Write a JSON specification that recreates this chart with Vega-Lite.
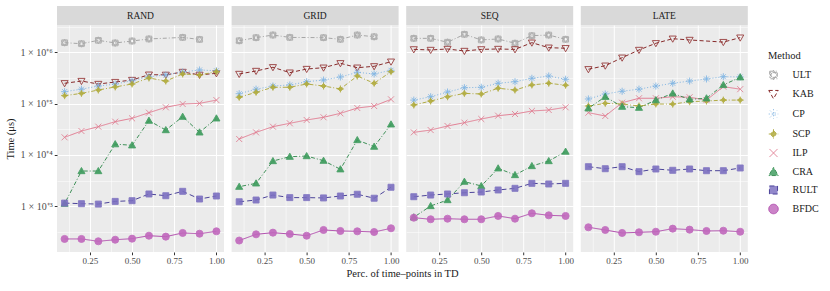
{
"$schema":"https://vega.github.io/schema/vega-lite/v6.json",
"padding":{"left":5,"top":6,"right":5,"bottom":5},
"title":{"text":"Perc. of time–points in TD","orient":"bottom","anchor":"middle","font":"Liberation Serif","fontSize":10.5,"fontWeight":"normal","color":"#1a1a1a","offset":3,"dx":-9.5},
"datasets":{"d":[
{"panel":"Rand","Method":"ULT","p":0.1,"t":1540000},{"panel":"Rand","Method":"ULT","p":0.2,"t":1470000},{"panel":"Rand","Method":"ULT","p":0.3,"t":1710000},{"panel":"Rand","Method":"ULT","p":0.4,"t":1520000},{"panel":"Rand","Method":"ULT","p":0.5,"t":1660000},{"panel":"Rand","Method":"ULT","p":0.6,"t":1820000},{"panel":"Rand","Method":"ULT","p":0.8,"t":1950000},{"panel":"Rand","Method":"ULT","p":0.9,"t":1780000},
{"panel":"Rand","Method":"KAB","p":0.1,"t":249000},{"panel":"Rand","Method":"KAB","p":0.2,"t":275000},{"panel":"Rand","Method":"KAB","p":0.3,"t":241000},{"panel":"Rand","Method":"KAB","p":0.4,"t":263000},{"panel":"Rand","Method":"KAB","p":0.5,"t":288000},{"panel":"Rand","Method":"KAB","p":0.6,"t":366000},{"panel":"Rand","Method":"KAB","p":0.7,"t":363000},{"panel":"Rand","Method":"KAB","p":0.8,"t":413000},{"panel":"Rand","Method":"KAB","p":0.9,"t":363000},{"panel":"Rand","Method":"KAB","p":1.0,"t":389000},
{"panel":"Rand","Method":"CP","p":0.1,"t":171000},{"panel":"Rand","Method":"CP","p":0.2,"t":191000},{"panel":"Rand","Method":"CP","p":0.3,"t":220000},{"panel":"Rand","Method":"CP","p":0.4,"t":240000},{"panel":"Rand","Method":"CP","p":0.5,"t":279000},{"panel":"Rand","Method":"CP","p":0.6,"t":334000},{"panel":"Rand","Method":"CP","p":0.7,"t":361000},{"panel":"Rand","Method":"CP","p":0.8,"t":413000},{"panel":"Rand","Method":"CP","p":0.9,"t":452000},{"panel":"Rand","Method":"CP","p":1.0,"t":437000},
{"panel":"Rand","Method":"SCP","p":0.1,"t":143000},{"panel":"Rand","Method":"SCP","p":0.2,"t":158000},{"panel":"Rand","Method":"SCP","p":0.3,"t":184000},{"panel":"Rand","Method":"SCP","p":0.4,"t":211000},{"panel":"Rand","Method":"SCP","p":0.5,"t":241000},{"panel":"Rand","Method":"SCP","p":0.6,"t":316000},{"panel":"Rand","Method":"SCP","p":0.7,"t":275000},{"panel":"Rand","Method":"SCP","p":0.8,"t":378000},{"panel":"Rand","Method":"SCP","p":0.9,"t":361000},{"panel":"Rand","Method":"SCP","p":1.0,"t":419000},
{"panel":"Rand","Method":"ILP","p":0.1,"t":22000},{"panel":"Rand","Method":"ILP","p":0.2,"t":29200},{"panel":"Rand","Method":"ILP","p":0.3,"t":35500},{"panel":"Rand","Method":"ILP","p":0.4,"t":44400},{"panel":"Rand","Method":"ILP","p":0.5,"t":51600},{"panel":"Rand","Method":"ILP","p":0.6,"t":66500},{"panel":"Rand","Method":"ILP","p":0.7,"t":84700},{"panel":"Rand","Method":"ILP","p":0.8,"t":98200},{"panel":"Rand","Method":"ILP","p":0.9,"t":101000},{"panel":"Rand","Method":"ILP","p":1.0,"t":117000},
{"panel":"Rand","Method":"CRA","p":0.1,"t":1120},{"panel":"Rand","Method":"CRA","p":0.2,"t":4850},{"panel":"Rand","Method":"CRA","p":0.3,"t":4850},{"panel":"Rand","Method":"CRA","p":0.4,"t":16200},{"panel":"Rand","Method":"CRA","p":0.5,"t":15400},{"panel":"Rand","Method":"CRA","p":0.6,"t":46500},{"panel":"Rand","Method":"CRA","p":0.7,"t":30500},{"panel":"Rand","Method":"CRA","p":0.8,"t":55600},{"panel":"Rand","Method":"CRA","p":0.9,"t":27500},{"panel":"Rand","Method":"CRA","p":1.0,"t":51600},
{"panel":"Rand","Method":"RULT","p":0.1,"t":1150},{"panel":"Rand","Method":"RULT","p":0.2,"t":1120},{"panel":"Rand","Method":"RULT","p":0.3,"t":1100},{"panel":"Rand","Method":"RULT","p":0.4,"t":1240},{"panel":"Rand","Method":"RULT","p":0.5,"t":1280},{"panel":"Rand","Method":"RULT","p":0.6,"t":1730},{"panel":"Rand","Method":"RULT","p":0.7,"t":1600},{"panel":"Rand","Method":"RULT","p":0.8,"t":1950},{"panel":"Rand","Method":"RULT","p":0.9,"t":1380},{"panel":"Rand","Method":"RULT","p":1.0,"t":1580},
{"panel":"Rand","Method":"BFDC","p":0.1,"t":230},{"panel":"Rand","Method":"BFDC","p":0.2,"t":230},{"panel":"Rand","Method":"BFDC","p":0.3,"t":207},{"panel":"Rand","Method":"BFDC","p":0.4,"t":222},{"panel":"Rand","Method":"BFDC","p":0.5,"t":233},{"panel":"Rand","Method":"BFDC","p":0.6,"t":266},{"panel":"Rand","Method":"BFDC","p":0.7,"t":255},{"panel":"Rand","Method":"BFDC","p":0.8,"t":301},{"panel":"Rand","Method":"BFDC","p":0.9,"t":291},{"panel":"Rand","Method":"BFDC","p":1.0,"t":324},
{"panel":"Grid","Method":"ULT","p":0.1,"t":1680000},{"panel":"Grid","Method":"ULT","p":0.2,"t":1930000},{"panel":"Grid","Method":"ULT","p":0.3,"t":2170000},{"panel":"Grid","Method":"ULT","p":0.4,"t":1950000},{"panel":"Grid","Method":"ULT","p":0.6,"t":1930000},{"panel":"Grid","Method":"ULT","p":0.7,"t":1790000},{"panel":"Grid","Method":"ULT","p":0.8,"t":2170000},{"panel":"Grid","Method":"ULT","p":0.9,"t":2010000},
{"panel":"Grid","Method":"KAB","p":0.1,"t":378000},{"panel":"Grid","Method":"KAB","p":0.2,"t":432000},{"panel":"Grid","Method":"KAB","p":0.3,"t":511000},{"panel":"Grid","Method":"KAB","p":0.4,"t":401000},{"panel":"Grid","Method":"KAB","p":0.5,"t":472000},{"panel":"Grid","Method":"KAB","p":0.6,"t":501000},{"panel":"Grid","Method":"KAB","p":0.7,"t":611000},{"panel":"Grid","Method":"KAB","p":0.8,"t":501000},{"panel":"Grid","Method":"KAB","p":0.9,"t":533000},{"panel":"Grid","Method":"KAB","p":1.0,"t":656000},
{"panel":"Grid","Method":"CP","p":0.1,"t":156000},{"panel":"Grid","Method":"CP","p":0.2,"t":191000},{"panel":"Grid","Method":"CP","p":0.3,"t":220000},{"panel":"Grid","Method":"CP","p":0.4,"t":231000},{"panel":"Grid","Method":"CP","p":0.5,"t":267000},{"panel":"Grid","Method":"CP","p":0.6,"t":288000},{"panel":"Grid","Method":"CP","p":0.7,"t":330000},{"panel":"Grid","Method":"CP","p":0.8,"t":407000},{"panel":"Grid","Method":"CP","p":0.9,"t":378000},{"panel":"Grid","Method":"CP","p":1.0,"t":446000},
{"panel":"Grid","Method":"SCP","p":0.1,"t":133000},{"panel":"Grid","Method":"SCP","p":0.2,"t":166000},{"panel":"Grid","Method":"SCP","p":0.3,"t":208000},{"panel":"Grid","Method":"SCP","p":0.4,"t":208000},{"panel":"Grid","Method":"SCP","p":0.5,"t":241000},{"panel":"Grid","Method":"SCP","p":0.6,"t":220000},{"panel":"Grid","Method":"SCP","p":0.7,"t":193000},{"panel":"Grid","Method":"SCP","p":0.8,"t":345000},{"panel":"Grid","Method":"SCP","p":0.9,"t":249000},{"panel":"Grid","Method":"SCP","p":1.0,"t":419000},
{"panel":"Grid","Method":"ILP","p":0.1,"t":20400},{"panel":"Grid","Method":"ILP","p":0.2,"t":27500},{"panel":"Grid","Method":"ILP","p":0.3,"t":35500},{"panel":"Grid","Method":"ILP","p":0.4,"t":41300},{"panel":"Grid","Method":"ILP","p":0.5,"t":47900},{"panel":"Grid","Method":"ILP","p":0.6,"t":54100},{"panel":"Grid","Method":"ILP","p":0.7,"t":64600},{"panel":"Grid","Method":"ILP","p":0.8,"t":82000},{"panel":"Grid","Method":"ILP","p":0.9,"t":89700},{"panel":"Grid","Method":"ILP","p":1.0,"t":121000},
{"panel":"Grid","Method":"CRA","p":0.1,"t":2400},{"panel":"Grid","Method":"CRA","p":0.2,"t":2790},{"panel":"Grid","Method":"CRA","p":0.3,"t":7600},{"panel":"Grid","Method":"CRA","p":0.4,"t":9230},{"panel":"Grid","Method":"CRA","p":0.5,"t":9500},{"panel":"Grid","Method":"CRA","p":0.6,"t":7710},{"panel":"Grid","Method":"CRA","p":0.7,"t":5250},{"panel":"Grid","Method":"CRA","p":0.8,"t":19500},{"panel":"Grid","Method":"CRA","p":0.9,"t":14500},{"panel":"Grid","Method":"CRA","p":1.0,"t":39400},
{"panel":"Grid","Method":"RULT","p":0.1,"t":1220},{"panel":"Grid","Method":"RULT","p":0.2,"t":1320},{"panel":"Grid","Method":"RULT","p":0.3,"t":1650},{"panel":"Grid","Method":"RULT","p":0.4,"t":1470},{"panel":"Grid","Method":"RULT","p":0.5,"t":1470},{"panel":"Grid","Method":"RULT","p":0.6,"t":1450},{"panel":"Grid","Method":"RULT","p":0.7,"t":1580},{"panel":"Grid","Method":"RULT","p":0.8,"t":1710},{"panel":"Grid","Method":"RULT","p":0.9,"t":1430},{"panel":"Grid","Method":"RULT","p":1.0,"t":2340},
{"panel":"Grid","Method":"BFDC","p":0.1,"t":214},{"panel":"Grid","Method":"BFDC","p":0.2,"t":283},{"panel":"Grid","Method":"BFDC","p":0.3,"t":305},{"panel":"Grid","Method":"BFDC","p":0.4,"t":287},{"panel":"Grid","Method":"BFDC","p":0.5,"t":266},{"panel":"Grid","Method":"BFDC","p":0.6,"t":344},{"panel":"Grid","Method":"BFDC","p":0.7,"t":329},{"panel":"Grid","Method":"BFDC","p":0.8,"t":324},{"panel":"Grid","Method":"BFDC","p":0.9,"t":314},{"panel":"Grid","Method":"BFDC","p":1.0,"t":371},
{"panel":"Seq","Method":"ULT","p":0.1,"t":1870000},{"panel":"Seq","Method":"ULT","p":0.2,"t":1870000},{"panel":"Seq","Method":"ULT","p":0.3,"t":1570000},{"panel":"Seq","Method":"ULT","p":0.4,"t":2240000},{"panel":"Seq","Method":"ULT","p":0.5,"t":1740000},{"panel":"Seq","Method":"ULT","p":0.6,"t":1820000},{"panel":"Seq","Method":"ULT","p":0.7,"t":1500000},{"panel":"Seq","Method":"ULT","p":0.8,"t":2110000},{"panel":"Seq","Method":"ULT","p":0.9,"t":2170000},{"panel":"Seq","Method":"ULT","p":1.0,"t":1790000},
{"panel":"Seq","Method":"KAB","p":0.1,"t":1140000},{"panel":"Seq","Method":"KAB","p":0.2,"t":1110000},{"panel":"Seq","Method":"KAB","p":0.3,"t":1160000},{"panel":"Seq","Method":"KAB","p":0.4,"t":1060000},{"panel":"Seq","Method":"KAB","p":0.5,"t":1140000},{"panel":"Seq","Method":"KAB","p":0.6,"t":1160000},{"panel":"Seq","Method":"KAB","p":0.7,"t":1140000},{"panel":"Seq","Method":"KAB","p":0.8,"t":1540000},{"panel":"Seq","Method":"KAB","p":0.9,"t":1230000},{"panel":"Seq","Method":"KAB","p":1.0,"t":1200000},
{"panel":"Seq","Method":"CP","p":0.1,"t":117000},{"panel":"Seq","Method":"CP","p":0.2,"t":136000},{"panel":"Seq","Method":"CP","p":0.3,"t":168000},{"panel":"Seq","Method":"CP","p":0.4,"t":204000},{"panel":"Seq","Method":"CP","p":0.5,"t":208000},{"panel":"Seq","Method":"CP","p":0.6,"t":249000},{"panel":"Seq","Method":"CP","p":0.7,"t":267000},{"panel":"Seq","Method":"CP","p":0.8,"t":311000},{"panel":"Seq","Method":"CP","p":0.9,"t":345000},{"panel":"Seq","Method":"CP","p":1.0,"t":298000},
{"panel":"Seq","Method":"SCP","p":0.1,"t":94000},{"panel":"Seq","Method":"SCP","p":0.2,"t":112000},{"panel":"Seq","Method":"SCP","p":0.3,"t":136000},{"panel":"Seq","Method":"SCP","p":0.4,"t":158000},{"panel":"Seq","Method":"SCP","p":0.5,"t":154000},{"panel":"Seq","Method":"SCP","p":0.6,"t":199000},{"panel":"Seq","Method":"SCP","p":0.7,"t":184000},{"panel":"Seq","Method":"SCP","p":0.8,"t":231000},{"panel":"Seq","Method":"SCP","p":0.9,"t":249000},{"panel":"Seq","Method":"SCP","p":1.0,"t":228000},
{"panel":"Seq","Method":"ILP","p":0.1,"t":27500},{"panel":"Seq","Method":"ILP","p":0.2,"t":30500},{"panel":"Seq","Method":"ILP","p":0.3,"t":36600},{"panel":"Seq","Method":"ILP","p":0.4,"t":42500},{"panel":"Seq","Method":"ILP","p":0.5,"t":50100},{"panel":"Seq","Method":"ILP","p":0.6,"t":58100},{"panel":"Seq","Method":"ILP","p":0.7,"t":62700},{"panel":"Seq","Method":"ILP","p":0.8,"t":71800},{"panel":"Seq","Method":"ILP","p":0.9,"t":75000},{"panel":"Seq","Method":"ILP","p":1.0,"t":84700},
{"panel":"Seq","Method":"CRA","p":0.1,"t":608},{"panel":"Seq","Method":"CRA","p":0.2,"t":1010},{"panel":"Seq","Method":"CRA","p":0.3,"t":1320},{"panel":"Seq","Method":"CRA","p":0.4,"t":3010},{"panel":"Seq","Method":"CRA","p":0.5,"t":2480},{"panel":"Seq","Method":"CRA","p":0.6,"t":5480},{"panel":"Seq","Method":"CRA","p":0.7,"t":4060},{"panel":"Seq","Method":"CRA","p":0.8,"t":6080},{"panel":"Seq","Method":"CRA","p":0.9,"t":7600},{"panel":"Seq","Method":"CRA","p":1.0,"t":11600},
{"panel":"Seq","Method":"RULT","p":0.1,"t":1530},{"panel":"Seq","Method":"RULT","p":0.2,"t":1650},{"panel":"Seq","Method":"RULT","p":0.3,"t":1730},{"panel":"Seq","Method":"RULT","p":0.4,"t":1830},{"panel":"Seq","Method":"RULT","p":0.5,"t":1890},{"panel":"Seq","Method":"RULT","p":0.6,"t":2070},{"panel":"Seq","Method":"RULT","p":0.7,"t":2230},{"panel":"Seq","Method":"RULT","p":0.8,"t":2790},{"panel":"Seq","Method":"RULT","p":0.9,"t":2710},{"panel":"Seq","Method":"RULT","p":1.0,"t":2790},
{"panel":"Seq","Method":"BFDC","p":0.1,"t":597},{"panel":"Seq","Method":"BFDC","p":0.2,"t":556},{"panel":"Seq","Method":"BFDC","p":0.3,"t":571},{"panel":"Seq","Method":"BFDC","p":0.4,"t":556},{"panel":"Seq","Method":"BFDC","p":0.5,"t":556},{"panel":"Seq","Method":"BFDC","p":0.6,"t":646},{"panel":"Seq","Method":"BFDC","p":0.7,"t":571},{"panel":"Seq","Method":"BFDC","p":0.8,"t":728},{"panel":"Seq","Method":"BFDC","p":0.9,"t":664},{"panel":"Seq","Method":"BFDC","p":1.0,"t":646},
{"panel":"Late","Method":"KAB","p":0.1,"t":467000},{"panel":"Late","Method":"KAB","p":0.2,"t":548000},{"panel":"Late","Method":"KAB","p":0.3,"t":785000},{"panel":"Late","Method":"KAB","p":0.4,"t":1110000},{"panel":"Late","Method":"KAB","p":0.5,"t":1500000},{"panel":"Late","Method":"KAB","p":0.6,"t":1840000},{"panel":"Late","Method":"KAB","p":0.7,"t":1740000},{"panel":"Late","Method":"KAB","p":0.9,"t":1580000},{"panel":"Late","Method":"KAB","p":1.0,"t":1930000},
{"panel":"Late","Method":"CP","p":0.1,"t":123000},{"panel":"Late","Method":"CP","p":0.2,"t":154000},{"panel":"Late","Method":"CP","p":0.3,"t":174000},{"panel":"Late","Method":"CP","p":0.4,"t":191000},{"panel":"Late","Method":"CP","p":0.5,"t":220000},{"panel":"Late","Method":"CP","p":0.6,"t":249000},{"panel":"Late","Method":"CP","p":0.7,"t":275000},{"panel":"Late","Method":"CP","p":0.8,"t":302000},{"panel":"Late","Method":"CP","p":0.9,"t":334000},{"panel":"Late","Method":"CP","p":1.0,"t":331000},
{"panel":"Late","Method":"SCP","p":0.1,"t":89700},{"panel":"Late","Method":"SCP","p":0.2,"t":101000},{"panel":"Late","Method":"SCP","p":0.3,"t":98200},{"panel":"Late","Method":"SCP","p":0.4,"t":89700},{"panel":"Late","Method":"SCP","p":0.5,"t":98200},{"panel":"Late","Method":"SCP","p":0.6,"t":97700},{"panel":"Late","Method":"SCP","p":0.7,"t":109000},{"panel":"Late","Method":"SCP","p":0.8,"t":112000},{"panel":"Late","Method":"SCP","p":0.9,"t":117000},{"panel":"Late","Method":"SCP","p":1.0,"t":117000},
{"panel":"Late","Method":"ILP","p":0.1,"t":66500},{"panel":"Late","Method":"ILP","p":0.2,"t":57300},{"panel":"Late","Method":"ILP","p":0.3,"t":104000},{"panel":"Late","Method":"ILP","p":0.4,"t":127000},{"panel":"Late","Method":"ILP","p":0.5,"t":127000},{"panel":"Late","Method":"ILP","p":0.6,"t":136000},{"panel":"Late","Method":"ILP","p":0.7,"t":133000},{"panel":"Late","Method":"ILP","p":0.8,"t":117000},{"panel":"Late","Method":"ILP","p":0.9,"t":214000},{"panel":"Late","Method":"ILP","p":1.0,"t":191000},
{"panel":"Late","Method":"CRA","p":0.1,"t":80900},{"panel":"Late","Method":"CRA","p":0.2,"t":136000},{"panel":"Late","Method":"CRA","p":0.3,"t":87100},{"panel":"Late","Method":"CRA","p":0.4,"t":83200},{"panel":"Late","Method":"CRA","p":0.5,"t":117000},{"panel":"Late","Method":"CRA","p":0.6,"t":158000},{"panel":"Late","Method":"CRA","p":0.7,"t":121000},{"panel":"Late","Method":"CRA","p":0.8,"t":127000},{"panel":"Late","Method":"CRA","p":0.9,"t":231000},{"panel":"Late","Method":"CRA","p":1.0,"t":326000},
{"panel":"Late","Method":"RULT","p":0.1,"t":5890},{"panel":"Late","Method":"RULT","p":0.2,"t":5380},{"panel":"Late","Method":"RULT","p":0.3,"t":5890},{"panel":"Late","Method":"RULT","p":0.4,"t":4710},{"panel":"Late","Method":"RULT","p":0.5,"t":5310},{"panel":"Late","Method":"RULT","p":0.6,"t":5010},{"panel":"Late","Method":"RULT","p":0.7,"t":5310},{"panel":"Late","Method":"RULT","p":0.8,"t":4920},{"panel":"Late","Method":"RULT","p":0.9,"t":4920},{"panel":"Late","Method":"RULT","p":1.0,"t":5560},
{"panel":"Late","Method":"BFDC","p":0.1,"t":388},{"panel":"Late","Method":"BFDC","p":0.2,"t":344},{"panel":"Late","Method":"BFDC","p":0.3,"t":301},{"panel":"Late","Method":"BFDC","p":0.4,"t":310},{"panel":"Late","Method":"BFDC","p":0.5,"t":318},{"panel":"Late","Method":"BFDC","p":0.6,"t":365},{"panel":"Late","Method":"BFDC","p":0.7,"t":349},{"panel":"Late","Method":"BFDC","p":0.8,"t":329},{"panel":"Late","Method":"BFDC","p":0.9,"t":333},{"panel":"Late","Method":"BFDC","p":1.0,"t":318}
]},
"hconcat":[
{"vconcat":[
 {"width":167,"height":19,"view":{"fill":"#d9d9d9","stroke":null},"data":{"values":[{"panel":"Rand"}]},"mark":{"type":"text","font":"Liberation Serif","fontSize":9.5,"color":"#1a1a1a","text":{"expr":"upper(datum.panel)"}}},
 {"width":167,"height":227,"data":{"name":"d"},"transform":[{"filter":"datum.panel == 'Rand'"}],
  "layer":[
   {"mark":{"type":"line","strokeWidth":0.9},"encoding":{
     "x":{"field":"p","type":"quantitative","scale":{"domain":[0.055,1.045],"nice":false,"zero":false},"axis":{"values":[0.125,0.375,0.625,0.875],"labels":false,"ticks":false,"domain":false,"title":null,"grid":true,"gridWidth":0.5,"gridColor":"#ffffff","orient":"bottom"}},
     "y":{"field":"t","type":"quantitative","scale":{"type":"log","domain":[128,3404000],"nice":false},"axis":{"values":[316.23,3162.3,31623,316228,3162278],"labels":false,"ticks":false,"domain":false,"title":null,"grid":true,"gridWidth":0.5,"gridColor":"#ffffff","orient":"left"}},
     "color":{"field":"Method","type":"nominal","scale":{"domain":["ULT","KAB","CP","SCP","ILP","CRA","RULT","BFDC"],"range":["#9e9e9e","#7b1414","#74aee0","#aaa433","#e07289","#2a8446","#3a3190","#a93aa5"]},
       "legend":{"title":"Method","orient":"none","legendX":711,"legendY":45,"zindex":1,"symbolSize":90,"symbolStrokeWidth":1,"rowPadding":5,"padding":0,"titlePadding":8,"labelOffset":13.5}},
     "strokeDash":{"field":"Method","type":"nominal","scale":{"domain":["ULT","KAB","CP","SCP","ILP","CRA","RULT","BFDC"],"range":[[4,2,1,2],[4,2.5],[1,2],[4,2,1,2],[1,0],[1,2,4,2],[5,3],[1,0]]},
       "legend":{"title":"Method","orient":"none","legendX":711,"legendY":45,"zindex":1,"symbolSize":90,"symbolStrokeWidth":1,"rowPadding":5,"padding":0,"titlePadding":8,"labelOffset":13.5}}}},
   {"mark":{"type":"point","size":50,"strokeWidth":0.9,"opacity":0.9},"encoding":{
     "x":{"field":"p","type":"quantitative","scale":{"domain":[0.055,1.045],"nice":false,"zero":false},"axis":{"values":[0.25,0.5,0.75,1],"format":".2f","title":null,"grid":true,"gridWidth":1,"gridColor":"#ffffff","orient":"bottom"}},
     "y":{"field":"t","type":"quantitative","scale":{"type":"log","domain":[128,3404000],"nice":false},"axis":{"values":[1000,10000,100000,1000000],"labelExpr":"datum.value == 1000 ? '1 × 10⁺³' : datum.value == 10000 ? '1 × 10⁺⁴' : datum.value == 100000 ? '1 × 10⁺⁵' : '1 × 10⁺⁶'","labelFontSize":10,"title":"Time (μs)","titlePadding":5,"grid":true,"gridWidth":1,"gridColor":"#ffffff","orient":"left"}},
     "stroke":{"field":"Method","type":"nominal","scale":{"domain":["ULT","KAB","CP","SCP","ILP","CRA","RULT","BFDC"],"range":["#a8a8a8","#8f2a2a","#7ab2e3","#b0aa3a","#e07a8f","#3a9a5a","#7a6ec0","#c067bc"]},
       "legend":{"title":"Method","orient":"none","legendX":711,"legendY":45,"zindex":1,"symbolSize":90,"symbolStrokeWidth":1,"rowPadding":5,"padding":0,"titlePadding":8,"labelOffset":13.5}},
     "fill":{"field":"Method","type":"nominal","scale":{"domain":["ULT","KAB","CP","SCP","ILP","CRA","RULT","BFDC"],"range":["transparent","transparent","transparent","#b0aa3a","transparent","#3a9a5a","#7a6ec0","#c067bc"]},
       "legend":{"title":"Method","orient":"none","legendX":711,"legendY":45,"zindex":1,"symbolSize":90,"symbolStrokeWidth":1,"rowPadding":5,"padding":0,"titlePadding":8,"labelOffset":13.5}},
     "shape":{"field":"Method","type":"nominal","scale":{"domain":["ULT","KAB","CP","SCP","ILP","CRA","RULT","BFDC"],"range":["M-0.8,-0.8H0.8V0.8H-0.8Z M0,-1L0.87,0.5H-0.87Z M0,1L0.87,-0.5H-0.87Z","M-1,-0.75H1L0,1Z","M-1,0H1M0,-1V1M-0.7,-0.7L0.7,0.7M-0.7,0.7L0.7,-0.7","M0,-0.7L0.7,0L0,0.7L-0.7,0Z M-1,0H1M0,-1V1","M-0.85,-0.85L0.85,0.85M-0.85,0.85L0.85,-0.85","M0,-1L1,0.75H-1Z","M-0.85,-0.85H0.85V0.85H-0.85Z","circle"]},
       "legend":{"title":"Method","orient":"none","legendX":711,"legendY":45,"zindex":1,"symbolSize":90,"symbolStrokeWidth":1,"rowPadding":5,"padding":0,"titlePadding":8,"labelOffset":13.5}}}}
  ],
  "resolve":{"axis":{"x":"independent","y":"independent"}}}
 ],"spacing":0},
{"vconcat":[
 {"width":167,"height":19,"view":{"fill":"#d9d9d9","stroke":null},"data":{"values":[{"panel":"Grid"}]},"mark":{"type":"text","font":"Liberation Serif","fontSize":9.5,"color":"#1a1a1a","text":{"expr":"upper(datum.panel)"}}},
 {"width":167,"height":227,"data":{"name":"d"},"transform":[{"filter":"datum.panel == 'Grid'"}],
  "layer":[
   {"mark":{"type":"line","strokeWidth":0.9},"encoding":{
     "x":{"field":"p","type":"quantitative","scale":{"domain":[0.055,1.045],"nice":false,"zero":false},"axis":{"values":[0.125,0.375,0.625,0.875],"labels":false,"ticks":false,"domain":false,"title":null,"grid":true,"gridWidth":0.5,"gridColor":"#ffffff","orient":"bottom"}},
     "y":{"field":"t","type":"quantitative","scale":{"type":"log","domain":[128,3404000],"nice":false},"axis":{"values":[316.23,3162.3,31623,316228,3162278],"labels":false,"ticks":false,"domain":false,"title":null,"grid":true,"gridWidth":0.5,"gridColor":"#ffffff","orient":"left"}},
     "color":{"field":"Method","type":"nominal"},
     "strokeDash":{"field":"Method","type":"nominal"}}},
   {"mark":{"type":"point","size":50,"strokeWidth":0.9,"opacity":0.9},"encoding":{
     "x":{"field":"p","type":"quantitative","scale":{"domain":[0.055,1.045],"nice":false,"zero":false},"axis":{"values":[0.25,0.5,0.75,1],"format":".2f","title":null,"grid":true,"gridWidth":1,"gridColor":"#ffffff","orient":"bottom"}},
     "y":{"field":"t","type":"quantitative","scale":{"type":"log","domain":[128,3404000],"nice":false},"axis":{"values":[1000,10000,100000,1000000],"labels":false,"ticks":false,"title":null,"grid":true,"gridWidth":1,"gridColor":"#ffffff","orient":"left"}},
     "stroke":{"field":"Method","type":"nominal"},
     "fill":{"field":"Method","type":"nominal"},
     "shape":{"field":"Method","type":"nominal"}}}
  ],
  "resolve":{"axis":{"x":"independent","y":"independent"}}}
 ],"spacing":0},
{"vconcat":[
 {"width":167,"height":19,"view":{"fill":"#d9d9d9","stroke":null},"data":{"values":[{"panel":"Seq"}]},"mark":{"type":"text","font":"Liberation Serif","fontSize":9.5,"color":"#1a1a1a","text":{"expr":"upper(datum.panel)"}}},
 {"width":167,"height":227,"data":{"name":"d"},"transform":[{"filter":"datum.panel == 'Seq'"}],
  "layer":[
   {"mark":{"type":"line","strokeWidth":0.9},"encoding":{
     "x":{"field":"p","type":"quantitative","scale":{"domain":[0.055,1.045],"nice":false,"zero":false},"axis":{"values":[0.125,0.375,0.625,0.875],"labels":false,"ticks":false,"domain":false,"title":null,"grid":true,"gridWidth":0.5,"gridColor":"#ffffff","orient":"bottom"}},
     "y":{"field":"t","type":"quantitative","scale":{"type":"log","domain":[128,3404000],"nice":false},"axis":{"values":[316.23,3162.3,31623,316228,3162278],"labels":false,"ticks":false,"domain":false,"title":null,"grid":true,"gridWidth":0.5,"gridColor":"#ffffff","orient":"left"}},
     "color":{"field":"Method","type":"nominal"},
     "strokeDash":{"field":"Method","type":"nominal"}}},
   {"mark":{"type":"point","size":50,"strokeWidth":0.9,"opacity":0.9},"encoding":{
     "x":{"field":"p","type":"quantitative","scale":{"domain":[0.055,1.045],"nice":false,"zero":false},"axis":{"values":[0.25,0.5,0.75,1],"format":".2f","title":null,"grid":true,"gridWidth":1,"gridColor":"#ffffff","orient":"bottom"}},
     "y":{"field":"t","type":"quantitative","scale":{"type":"log","domain":[128,3404000],"nice":false},"axis":{"values":[1000,10000,100000,1000000],"labels":false,"ticks":false,"title":null,"grid":true,"gridWidth":1,"gridColor":"#ffffff","orient":"left"}},
     "stroke":{"field":"Method","type":"nominal"},
     "fill":{"field":"Method","type":"nominal"},
     "shape":{"field":"Method","type":"nominal"}}}
  ],
  "resolve":{"axis":{"x":"independent","y":"independent"}}}
 ],"spacing":0},
{"vconcat":[
 {"width":167,"height":19,"view":{"fill":"#d9d9d9","stroke":null},"data":{"values":[{"panel":"Late"}]},"mark":{"type":"text","font":"Liberation Serif","fontSize":9.5,"color":"#1a1a1a","text":{"expr":"upper(datum.panel)"}}},
 {"width":167,"height":227,"data":{"name":"d"},"transform":[{"filter":"datum.panel == 'Late'"}],
  "layer":[
   {"mark":{"type":"line","strokeWidth":0.9},"encoding":{
     "x":{"field":"p","type":"quantitative","scale":{"domain":[0.055,1.045],"nice":false,"zero":false},"axis":{"values":[0.125,0.375,0.625,0.875],"labels":false,"ticks":false,"domain":false,"title":null,"grid":true,"gridWidth":0.5,"gridColor":"#ffffff","orient":"bottom"}},
     "y":{"field":"t","type":"quantitative","scale":{"type":"log","domain":[128,3404000],"nice":false},"axis":{"values":[316.23,3162.3,31623,316228,3162278],"labels":false,"ticks":false,"domain":false,"title":null,"grid":true,"gridWidth":0.5,"gridColor":"#ffffff","orient":"left"}},
     "color":{"field":"Method","type":"nominal"},
     "strokeDash":{"field":"Method","type":"nominal"}}},
   {"mark":{"type":"point","size":50,"strokeWidth":0.9,"opacity":0.9},"encoding":{
     "x":{"field":"p","type":"quantitative","scale":{"domain":[0.055,1.045],"nice":false,"zero":false},"axis":{"values":[0.25,0.5,0.75,1],"format":".2f","title":null,"grid":true,"gridWidth":1,"gridColor":"#ffffff","orient":"bottom"}},
     "y":{"field":"t","type":"quantitative","scale":{"type":"log","domain":[128,3404000],"nice":false},"axis":{"values":[1000,10000,100000,1000000],"labels":false,"ticks":false,"title":null,"grid":true,"gridWidth":1,"gridColor":"#ffffff","orient":"left"}},
     "stroke":{"field":"Method","type":"nominal"},
     "fill":{"field":"Method","type":"nominal"},
     "shape":{"field":"Method","type":"nominal"}}}
  ],
  "resolve":{"axis":{"x":"independent","y":"independent"}}}
 ],"spacing":0}
],
"spacing":6.6,
"config":{
 "font":"Liberation Serif",
 "view":{"fill":"#ebebeb","stroke":null},
 "axis":{"labelFont":"Liberation Serif","labelFontSize":9,"labelColor":"#4d4d4d","titleFont":"Liberation Serif","titleFontSize":10.5,"titleFontWeight":"normal","titleColor":"#1a1a1a","domain":false,"tickColor":"#333333","tickSize":2.75,"labelPadding":2},
 "legend":{"labelFont":"Liberation Serif","labelFontSize":10,"labelColor":"#1a1a1a","titleFont":"Liberation Serif","titleFontSize":10.5,"titleFontWeight":"normal","titleColor":"#1a1a1a"}
}
}
